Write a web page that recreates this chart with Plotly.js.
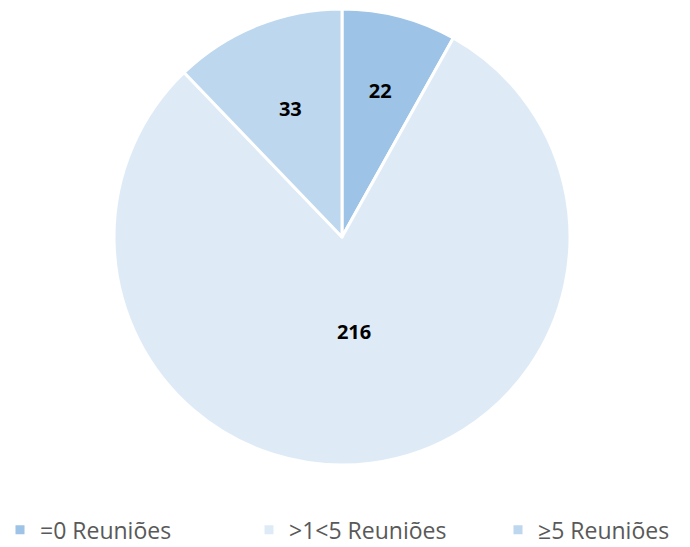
<!DOCTYPE html>
<html><head><meta charset="utf-8">
<script src="https://cdn.plot.ly/plotly-3.0.1.min.js"></script>
<style>html,body{margin:0;padding:0;background:#fff;overflow:hidden}</style>
</head><body>
<div id="chart" style="width:780px;height:547px"></div>
<script>
const categories = ["=0 Reuniões", ">1<5 Reuniões", "≥5 Reuniões"];
const values = [22, 216, 33];
const colors = ["#9DC3E6", "#DEEBF7", "#BDD7EE"];

const W = 780, H = 547;
// pie: centre (342,237), radius 228
const dom = {x: [114/W, 570/W], y: [(H-465)/H, (H-9)/H]};
// smaller transparent ring carrying value labels
const R2 = 190;
const dom2 = {x: [(342-R2)/W, (342+R2)/W], y: [(H-237-R2)/H, (H-237+R2)/H]};

const pieTrace = {
  type: "pie",
  labels: categories,
  values: values,
  sort: false,
  direction: "clockwise",
  rotation: 0,
  marker: {colors: colors, line: {color: "#ffffff", width: 3}},
  textinfo: "none",
  hoverinfo: "label+value",
  domain: dom
};

const labelTrace = {
  type: "pie",
  labels: categories,
  values: values,
  sort: false,
  direction: "clockwise",
  rotation: 0,
  showlegend: false,
  marker: {colors: ["rgba(0,0,0,0)", "rgba(0,0,0,0)", "rgba(0,0,0,0)"], line: {width: 0}},
  textinfo: "value",
  textposition: "inside",
  insidetextorientation: "horizontal",
  textfont: {family: "Open Sans, sans-serif", size: 20, color: "#000000", weight: "bold"},
  hoverinfo: "skip",
  domain: dom2
};

const layout = {
  width: W, height: H,
  margin: {l: 0, r: 0, t: 0, b: 0, autoexpand: false},
  paper_bgcolor: "#ffffff",
  showlegend: true,
  legend: {
    orientation: "h", x: 0, xanchor: "left", y: -0.008, yanchor: "bottom",
    font: {family: "Open Sans, sans-serif", size: 23, color: "#595959"},
    entrywidth: 204, entrywidthmode: "pixels", itemwidth: 30, traceorder: "normal"
  }
};
Plotly.newPlot("chart", [pieTrace, labelTrace], layout, {displayModeBar: false, staticPlot: true});
</script>
</body></html>
